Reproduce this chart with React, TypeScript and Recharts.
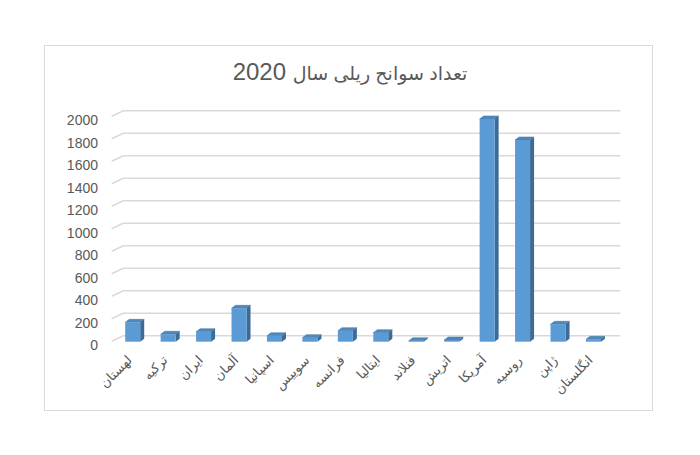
import React from "react";
import { BarChart, Bar, XAxis, YAxis, CartesianGrid } from "recharts";

// countries, in the order shown left to right
const countries = [
  "لهستان",
  "ترکیه",
  "ایران",
  "آلمان",
  "اسپانیا",
  "سوییس",
  "فرانسه",
  "ایتالیا",
  "فنلاند",
  "اتریش",
  "آمریکا",
  "روسیه",
  "ژاپن",
  "انگلستان",
];

// rail accidents in 2020
const accidents = [172, 66, 89, 297, 53, 36, 98, 80, 8, 15, 1980, 1793, 155, 21];

const yTicks = [0, 200, 400, 600, 800, 1000, 1200, 1400, 1600, 1800, 2000];

const titleWords = "تعداد سوانح ریلی سال";
const titleYear = "2020";

const data = countries.map((name, i) => ({ name, value: accidents[i] }));

const FONT = "'Liberation Sans', 'DejaVu Sans', Arial, sans-serif";
const TEXT = "#595959";

// fake 3D column: front face pushed down, top and side faces going back
const Column3D = (props: any) => {
  const { x, y, width, height } = props;
  if (height == null || isNaN(height)) return null;
  const fy = y + 6;
  const dx = 4;
  const dy = -3;
  return (
    <g>
      <polygon
        points={`${x},${fy} ${x + width},${fy} ${x + width + dx},${fy + dy} ${x + dx},${fy + dy}`}
        fill="#4f88bd"
        stroke="#3f72a0"
        strokeWidth={0.5}
      />
      <polygon
        points={`${x + width},${fy} ${x + width + dx},${fy + dy} ${x + width + dx},${fy + dy + height} ${x + width},${fy + height}`}
        fill="#3c6b97"
      />
      <rect x={x} y={fy} width={width} height={height} fill="#5b9bd5" />
    </g>
  );
};

const GridLine = (props: any) => {
  const { x1, y1, x2, key } = props;
  return (
    <path
      key={key}
      d={`M${x1 - 3.5},${y1 + 5.5} L${x1 + 8},${y1} L${x2 + 9},${y1}`}
      stroke="#d9d9d9"
      strokeWidth={1.5}
      fill="none"
    />
  );
};

const YTick = (props: any) => {
  const { y, payload } = props;
  return (
    <text x={98} y={y + 9.5} dy="0.355em" textAnchor="end" fontSize={14} fill={TEXT} fontFamily={FONT}>
      {payload.value}
    </text>
  );
};

const XTick = (props: any) => {
  const { x, payload } = props;
  const tx = x;
  const ty = 361;
  return (
    <text
      x={tx}
      y={ty}
      textAnchor="end"
      fontSize={13}
      fill={TEXT}
      fontFamily={FONT}
      transform={`rotate(-45, ${tx}, ${ty})`}
    >
      {payload.value}
    </text>
  );
};

export default function App() {
  return (
    <div style={{ position: "absolute", left: 0, top: 0, width: 700, height: 455, background: "#fff" }}>
      <div
        style={{
          position: "absolute",
          left: 44,
          top: 45,
          width: 607,
          height: 364,
          border: "1.5px solid #d9d9d9",
        }}
      />
      <div
        style={{
          position: "absolute",
          left: 0,
          width: 700,
          top: 58,
          textAlign: "center",
          fontFamily: FONT,
          color: TEXT,
          direction: "rtl",
          whiteSpace: "nowrap",
        }}
      >
        <span style={{ fontSize: 19 }}>{titleWords}</span>
        <span style={{ fontSize: 24 }}> {titleYear}</span>
      </div>
      <div style={{ position: "absolute", left: 0, top: 0 }}>
        <BarChart
          width={700}
          height={455}
          data={data}
          barSize={15}
          margin={{ top: 110.7, right: 88.6, bottom: 59.3, left: 0 }}
        >
          <CartesianGrid vertical={false} horizontal={GridLine as any} />
          <XAxis dataKey="name" axisLine={false} tickLine={false} interval={0} height={60} tick={XTick} />
          <YAxis
            domain={[0, 2000]}
            ticks={yTicks}
            interval={0}
            width={115.2}
            axisLine={false}
            tickLine={false}
            tick={YTick}
          />
          <Bar dataKey="value" shape={Column3D} isAnimationActive={false} />
        </BarChart>
      </div>
    </div>
  );
}
